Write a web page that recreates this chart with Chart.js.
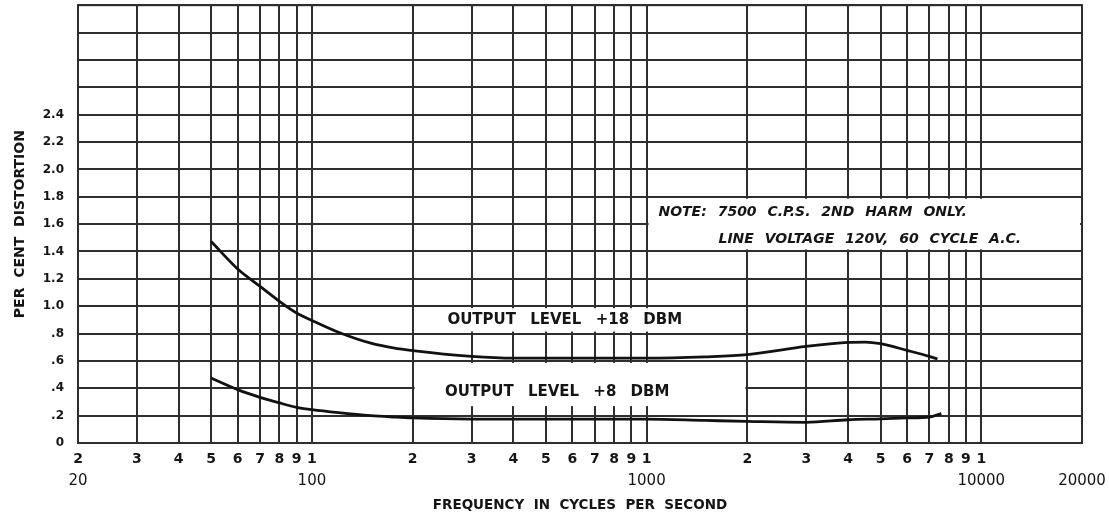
<!DOCTYPE html>
<html lang="en">
<head>
<meta charset="UTF-8">
<title>Per cent distortion vs frequency</title>
<script src="https://cdn.jsdelivr.net/npm/chart.js"></script>
<style>
  html, body { margin: 0; padding: 0; background: #fff; }
</style>
</head>
<body>
<canvas id="chart" width="1109" height="519"></canvas>
<script>
// curves: frequency in c.p.s., per cent distortion
var freqHigh = [50, 60, 70, 80, 90, 100, 120, 150, 175, 200, 300, 400, 500, 700, 1000, 1500, 2000, 3000, 4000, 4500, 5000, 6000, 7000, 7400];
var distHigh = [1.473, 1.272, 1.145, 1.035, 0.95, 0.896, 0.81, 0.73, 0.695, 0.675, 0.633, 0.62, 0.62, 0.62, 0.62, 0.63, 0.646, 0.706, 0.736, 0.738, 0.726, 0.677, 0.633, 0.614];
var freqLow = [50, 60, 70, 80, 90, 100, 120, 150, 175, 200, 300, 500, 700, 1000, 1500, 2000, 3000, 4000, 5000, 6000, 7000, 7600];
var distLow = [0.475, 0.39, 0.334, 0.293, 0.261, 0.244, 0.222, 0.2, 0.19, 0.183, 0.175, 0.175, 0.175, 0.175, 0.165, 0.158, 0.151, 0.17, 0.176, 0.183, 0.19, 0.215];

// axis ticks
var freqTicks = [20, 30, 40, 50, 60, 70, 80, 90, 100, 200, 300, 400, 500, 600, 700, 800, 900, 1000,
                 2000, 3000, 4000, 5000, 6000, 7000, 8000, 9000, 10000, 20000];
var decadeTicks = [20, 100, 1000, 10000, 20000];
var decadeLabels = ['20', '100', '1000', '10000', '20000'];
var distLabels = ['0', '.2', '.4', '.6', '.8', '1.0', '1.2', '1.4', '1.6', '1.8', '2.0', '2.2', '2.4'];

var FONT = '"DejaVu Sans", "Liberation Sans", sans-serif';
Chart.defaults.font.family = FONT;
Chart.defaults.color = '#151515';

function leadDigit(v) {
  if (v >= 20000) return '';
  return String(v).charAt(0);
}

// white label boxes laid over the grid, placed in data units
var boxes = [
  { x0: 200, x1: 2000, y0: 0.8, y1: 1.0, italic: false, size: 15, gap: '9px',
    lines: [{ x: 254, y: 0.9, text: 'OUTPUT LEVEL +18 DBM' }] },
  { x0: 200, x1: 2000, y0: 0.255, y1: 0.6, italic: false, size: 15, gap: '9px',
    lines: [{ x: 250, y: 0.37, text: 'OUTPUT LEVEL +8 DBM' }] },
  { x0: 1000, x1: 20000, y0: 1.4, y1: 1.8, italic: true, size: 14, gap: '6px',
    lines: [{ x: 1085, y: 1.685, text: 'NOTE: 7500 C.P.S. 2ND HARM ONLY.' },
            { x: 1640, y: 1.49, text: 'LINE VOLTAGE 120V, 60 CYCLE A.C.' }] }
];

var gridColor = '#2e2e2e';

var boxPlugin = {
  id: 'boxes',
  beforeDatasetsDraw: function(chart) {
    var ctx = chart.ctx, xs = chart.scales.x, ys = chart.scales.y, a = chart.chartArea;
    ctx.save();
    boxes.forEach(function(b) {
      var l = xs.getPixelForValue(b.x0) + 2, r = xs.getPixelForValue(b.x1) - 2;
      var t = ys.getPixelForValue(b.y1) + 2, btm = ys.getPixelForValue(b.y0) - 2;
      ctx.fillStyle = '#fff';
      ctx.fillRect(l, t, r - l, btm - t);
      ctx.fillStyle = '#151515';
      ctx.font = (b.italic ? 'italic ' : '') + 'bold ' + b.size + 'px ' + FONT;
      ctx.wordSpacing = b.gap;
      ctx.textAlign = 'left';
      ctx.textBaseline = 'middle';
      b.lines.forEach(function(ln) {
        ctx.fillText(ln.text, xs.getPixelForValue(ln.x), ys.getPixelForValue(ln.y));
      });
    });
    // keep the sheet's outer frame whole where a box meets it
    ctx.strokeStyle = gridColor;
    ctx.lineWidth = 2;
    ctx.strokeRect(a.left, a.top, a.right - a.left, a.bottom - a.top);
    ctx.restore();
  }
};

new Chart(document.getElementById('chart'), {
  type: 'line',
  data: {
    datasets: [
      { label: '+18 DBM', data: freqHigh.map(function(f, i) { return { x: f, y: distHigh[i] }; }) },
      { label: '+8 DBM', data: freqLow.map(function(f, i) { return { x: f, y: distLow[i] }; }) }
    ]
  },
  options: {
    responsive: false,
    animation: false,
    layout: { padding: { left: 0, right: 27, top: 0, bottom: 0 } },
    elements: {
      line: { borderColor: '#111', borderWidth: 2.8, cubicInterpolationMode: 'monotone', fill: false },
      point: { radius: 0 }
    },
    plugins: { legend: { display: false }, tooltip: { enabled: false } },
    scales: {
      x: {
        type: 'logarithmic',
        position: 'bottom',
        min: 20, max: 20000,
        weight: 0,
        afterBuildTicks: function(s) { s.ticks = freqTicks.map(function(v) { return { value: v }; }); },
        afterFit: function(s) { s.height = 27; },
        grid: { color: gridColor, lineWidth: 2, drawTicks: false },
        border: { color: gridColor, width: 2 },
        ticks: {
          autoSkip: false, maxRotation: 0, padding: 8,
          font: { size: 14, weight: 'bold' },
          callback: function(v) { return leadDigit(v); }
        }
      },
      x2: {
        type: 'logarithmic',
        position: 'bottom',
        min: 20, max: 20000,
        weight: 1,
        afterBuildTicks: function(s) { s.ticks = decadeTicks.map(function(v) { return { value: v }; }); },
        afterFit: function(s) { s.height = 49; },
        grid: { display: false, drawTicks: false },
        border: { display: false },
        ticks: {
          autoSkip: false, maxRotation: 0, padding: 2,
          font: { size: 15 },
          callback: function(v, i) { return decadeLabels[i]; }
        },
        title: {
          display: true, text: 'FREQUENCY  IN  CYCLES  PER  SECOND',
          font: { size: 13.5, weight: 'bold' }, padding: { top: 4, bottom: 5 }
        }
      },
      y: {
        min: 0, max: 3.2,
        afterFit: function(s) { s.width = 78; },
        grid: { color: gridColor, lineWidth: 2, drawTicks: true, tickLength: 16, tickColor: 'rgba(0,0,0,0)' },
        border: { color: gridColor, width: 2 },
        ticks: {
          stepSize: 0.2, padding: -2,
          font: { size: 12, weight: 'bold' },
          callback: function(v) {
            var i = Math.round(v * 5);
            return i < distLabels.length ? distLabels[i] : '';
          }
        },
        title: {
          display: true, text: 'PER  CENT  DISTORTION',
          font: { size: 14, weight: 'bold' }, padding: { top: 12, bottom: 4 }
        }
      }
    }
  },
  plugins: [boxPlugin]
});
</script>
</body>
</html>
